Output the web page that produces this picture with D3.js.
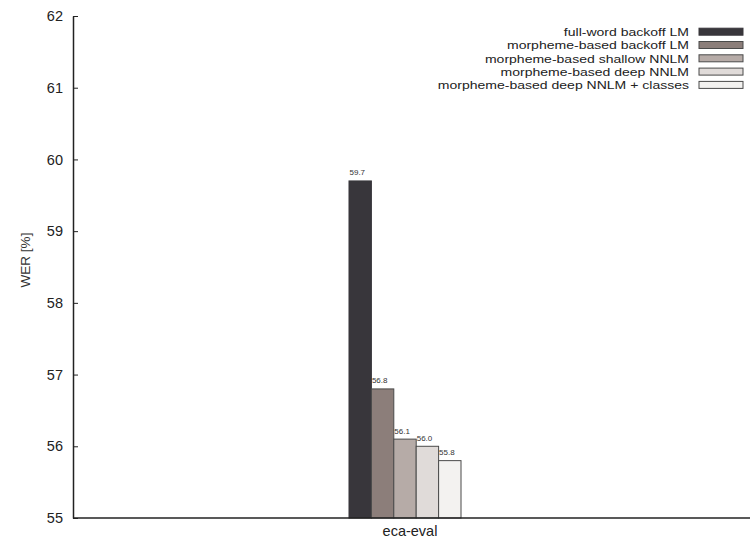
<!DOCTYPE html>
<html><head><meta charset="utf-8">
<script src="https://cdn.jsdelivr.net/npm/d3@7"></script>
<style>body{margin:0;background:#fff}svg{font-family:"Liberation Sans",Arial,sans-serif}</style>
</head><body><svg id="c" width="750" height="540"></svg>
<script>
const categories = ["eca-eval"];
const seriesNames = ["full-word backoff LM","morpheme-based backoff LM","morpheme-based shallow NNLM","morpheme-based deep NNLM","morpheme-based deep NNLM + classes"];
const seriesValues = [59.7, 56.8, 56.1, 56.0, 55.8];
const seriesLabels = ["59.7","56.8","56.1","56.0","55.8"];
const seriesColors = ["#38363b","#8c7e7a","#b6aba7","#e0dbd9","#f3f2f0"];
const yTicks = [55,56,57,58,59,60,61,62];

const svg = d3.select("#c");
const L = 73, R = 737, T = 16, B = 518;
const y = d3.scaleLinear().domain([55,62]).range([B,T]);
const x0 = d3.scaleBand().domain(categories).range([L,R]).paddingInner(0).paddingOuter(2.464);
const x1 = d3.scaleBand().domain(seriesNames).range([0,x0.bandwidth()]);

// bars
const g = svg.append("g");
categories.forEach(cat => {
  seriesNames.forEach((s,i) => {
    const bx = x0(cat) + x1(s);
    g.append("rect").attr("x",bx).attr("y",y(seriesValues[i]))
      .attr("width",x1.bandwidth()).attr("height",y(55)-y(seriesValues[i]))
      .attr("fill",seriesColors[i]).attr("stroke", i===0?"#38363b":"#4a4a4a").attr("stroke-width",1);
    g.append("text").attr("x",bx+0.5).attr("y",y(seriesValues[i])-5.5)
      .attr("font-size",8).attr("fill","#333").text(seriesLabels[i]);
  });
});

// y axis
const ya = svg.append("g").attr("transform",`translate(${L},0)`)
  .call(d3.axisLeft(y).tickValues(yTicks).tickFormat(d3.format("d")).tickSizeInner(-5).tickSizeOuter(0).tickPadding(10));
ya.select(".domain").attr("stroke","#222").attr("stroke-width",1.5);
ya.selectAll(".tick line").attr("stroke","#222");
ya.selectAll(".tick text").attr("font-size",14.5).attr("fill","#222");

// x axis
const xa = svg.append("g").attr("transform",`translate(5,${B})`)
  .call(d3.axisBottom(x0).tickSize(0).tickPadding(8));
xa.select(".domain").remove();
xa.selectAll(".tick text").attr("font-size",14.5).attr("fill","#222");
svg.append("line").attr("x1",L).attr("x2",750).attr("y1",B).attr("y2",B).attr("stroke","#222").attr("stroke-width",1.5);

// y label
svg.append("text").attr("transform",`translate(30,260) rotate(-90)`)
  .attr("text-anchor","middle").attr("font-size",13.5).attr("fill","#333").text("WER [%]");

// legend
const lg = svg.append("g");
seriesNames.forEach((s,i) => {
  const cy = 31.7 + i*13.3;
  lg.append("g").attr("transform",`translate(689,${cy+4.2}) scale(1.22,1)`)
    .append("text").attr("x",0).attr("y",0).attr("text-anchor","end")
    .attr("font-size",11.5).attr("fill","#222").text(s);
  lg.append("rect").attr("x",699).attr("y",cy-3.5).attr("width",44).attr("height",7)
    .attr("fill",seriesColors[i]).attr("stroke",i===0?"#38363b":"#4a4a4a").attr("stroke-width",1);
});
</script></body></html>
